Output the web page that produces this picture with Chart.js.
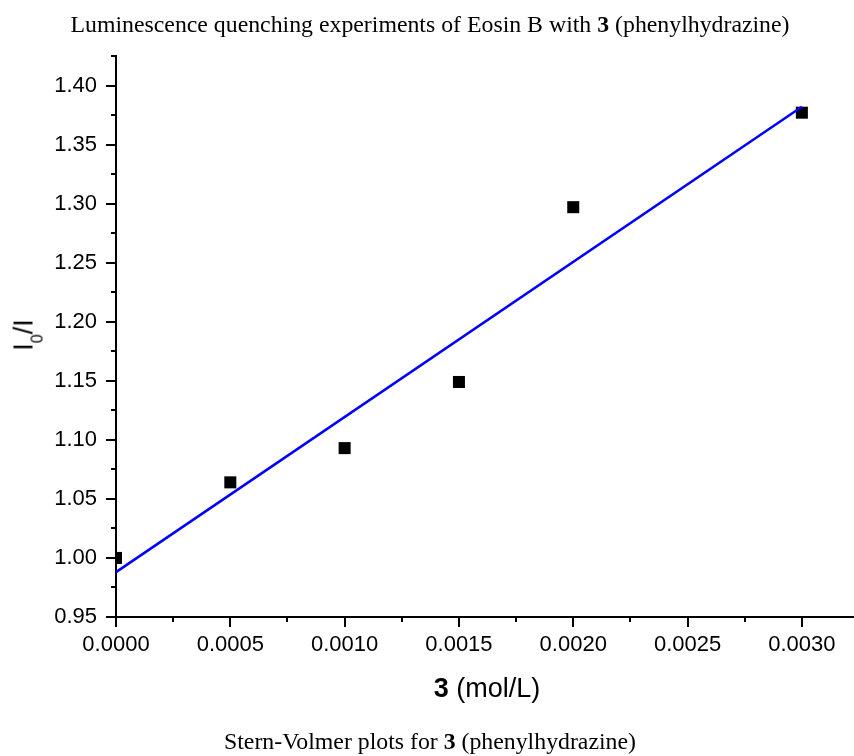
<!DOCTYPE html>
<html>
<head>
<meta charset="utf-8">
<title>Stern-Volmer plot</title>
<script src="https://cdn.jsdelivr.net/npm/chart.js@4.4.1/dist/chart.umd.min.js"></script>
<style>
  body { margin: 0; background: #fff; }
  #wrap { position: relative; width: 854px; height: 756px; overflow: hidden; }
  #chart { position: absolute; left: 0; top: 0; }
  .serif { position: absolute; font-family: "Liberation Serif", "Times New Roman", serif; font-size: 23.8px; line-height: 1; white-space: nowrap; color: #000; transform: translateX(-50%); }
  .sans { position: absolute; font-family: "Liberation Sans", Arial, sans-serif; font-size: 27px; line-height: 1; white-space: nowrap; color: #000; }
  #title { left: 430px; top: 13px; }
  #caption { left: 430px; top: 730px; }
  #xTitle { left: 487px; top: 675px; transform: translateX(-50%); }
  #yTitle { left: 24px; top: 335px; transform: translate(-50%, -50%) rotate(-90deg); }
  #yTitle span { font-size: 16px; vertical-align: -10px; line-height: 0; }
</style>
</head>
<body>
<div id="wrap">
  <canvas id="chart" width="854" height="756"></canvas>
  <div id="title" class="serif">Luminescence quenching experiments of Eosin B with <b>3</b> (phenylhydrazine)</div>
  <div id="xTitle" class="sans"><b>3</b> (mol/L)</div>
  <div id="yTitle" class="sans">I<span>0</span>/I</div>
  <div id="caption" class="serif">Stern-Volmer plots for <b>3</b> (phenylhydrazine)</div>
</div>
<script>
const concentration = [0, 0.0005, 0.0010, 0.0015, 0.0020, 0.0030];
const intensityRatio = [1.000, 1.064, 1.093, 1.149, 1.297, 1.377];

// ends of the linear fit line
const fitX = [0, 0.0030];
const fitY = [0.988, 1.382];

// axis ticks
const xTicks = [0, 0.0005, 0.0010, 0.0015, 0.0020, 0.0025, 0.0030];
const yTicks = [0.95, 1.00, 1.05, 1.10, 1.15, 1.20, 1.25, 1.30, 1.35, 1.40];
const xRange = [0, 0.003228];
const yRange = [0.95, 1.425];

const tickFont = { family: "'Liberation Sans', Arial, sans-serif", size: 22 };

// minor ticks half way between the major ones
const minorTicks = {
    id: 'minorTicks',
    afterDraw(chart) {
        const ctx = chart.ctx;
        ctx.save();
        ctx.strokeStyle = '#000';
        ctx.lineWidth = 2;
        const xs = chart.scales.x, ys = chart.scales.y;
        const xStep = xTicks[1] - xTicks[0];
        xTicks.forEach(v => {
            const m = v + xStep / 2;
            if (m > xRange[1] + 1e-9) return;
            const px = Math.round(xs.getPixelForValue(m));
            ctx.beginPath();
            ctx.moveTo(px, xs.top);
            ctx.lineTo(px, xs.top + 5);
            ctx.stroke();
        });
        const yStep = yTicks[1] - yTicks[0];
        yTicks.forEach(v => {
            const m = v + yStep / 2;
            if (m > yRange[1] + 1e-9) return;
            const py = Math.round(ys.getPixelForValue(m));
            ctx.beginPath();
            ctx.moveTo(ys.right, py);
            ctx.lineTo(ys.right - 5, py);
            ctx.stroke();
        });
        ctx.restore();
    }
};

window.onload = function() {
    const points = concentration.map((x, i) => ({ x: x, y: intensityRatio[i] }));
    const fit = fitX.map((x, i) => ({ x: x, y: fitY[i] }));

    new Chart(document.getElementById('chart'), {
        type: 'scatter',
        data: {
            datasets: [{
                label: 'Linear fit',
                data: fit,
                showLine: true,
                borderColor: '#0000ff',
                borderWidth: 2.5,
                pointRadius: 0,
                fill: false
            }, {
                label: 'I0/I',
                data: points,
                pointStyle: 'rect',
                pointRadius: 8.5,
                backgroundColor: '#000',
                borderColor: '#000',
                borderWidth: 0
            }]
        },
        options: {
            responsive: false,
            animation: false,
            layout: { autoPadding: false, padding: { top: 56, right: 0, bottom: 0, left: 0 } },
            plugins: {
                legend: { display: false },
                tooltip: { enabled: false }
            },
            scales: {
                x: {
                    type: 'linear',
                    min: xRange[0],
                    max: xRange[1],
                    afterBuildTicks: s => { s.ticks = xTicks.map(v => ({ value: v })); },
                    afterFit: s => { s.height = 139; },
                    ticks: {
                        callback: v => Number(v).toFixed(4),
                        font: tickFont,
                        color: '#000',
                        padding: 5,
                        maxRotation: 0,
                        autoSkip: false
                    },
                    grid: { drawOnChartArea: false, drawTicks: true, tickLength: 10, color: '#000', lineWidth: 2 },
                    border: { display: true, color: '#000', width: 2 }
                },
                y: {
                    type: 'linear',
                    min: yRange[0],
                    max: yRange[1],
                    afterBuildTicks: s => { s.ticks = yTicks.map(v => ({ value: v })); },
                    afterFit: s => { s.width = 116; },
                    ticks: {
                        callback: v => Number(v).toFixed(2),
                        font: tickFont,
                        color: '#000',
                        padding: 9,
                        autoSkip: false
                    },
                    grid: { drawOnChartArea: false, drawTicks: true, tickLength: 10, color: '#000', lineWidth: 2 },
                    border: { display: true, color: '#000', width: 2 }
                }
            }
        },
        plugins: [minorTicks]
    });
};
</script>
</body>
</html>
